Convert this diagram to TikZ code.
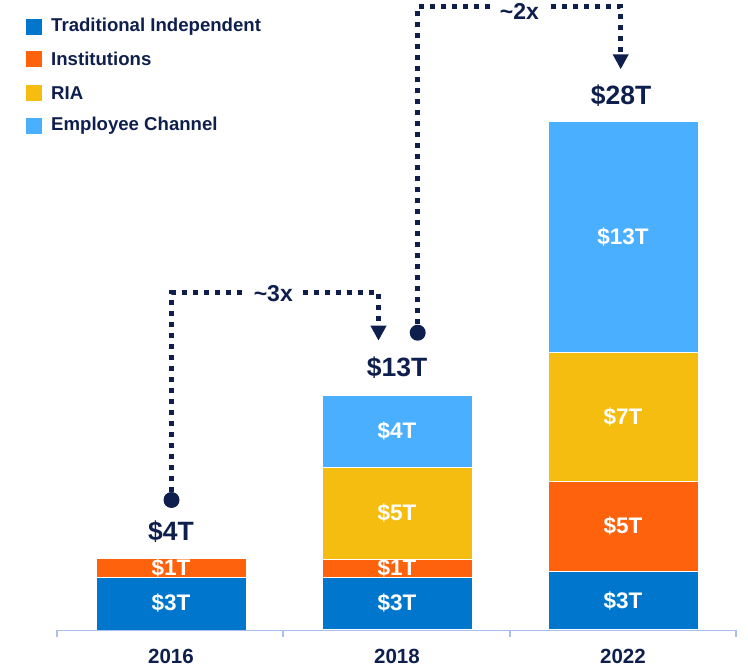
\documentclass[tikz,border=0pt]{standalone}
\usepackage{fontspec}
\setmainfont{Liberation Sans}
\usetikzlibrary{arrows.meta}
\definecolor{tiblue}{HTML}{0077CC}
\definecolor{inorange}{HTML}{FF620D}
\definecolor{riayellow}{HTML}{F5BD0F}
\definecolor{emblue}{HTML}{4BAFFF}
\definecolor{navy}{HTML}{0F1F4D}
\definecolor{axisblue}{HTML}{A9C0EE}
\tikzset{
  seg/.style={draw=white, line width=0.4pt, inner sep=0pt, minimum width=150pt, anchor=center,
              text=white, font=\fontsize{22.5}{25}\selectfont\bfseries},
  legsq/.style={inner sep=0pt, minimum size=16pt},
  legtxt/.style={anchor=west, inner sep=0pt, text=navy, font=\fontsize{18.6}{21}\selectfont\bfseries},
  yeartxt/.style={inner sep=0pt, text=navy, font=\fontsize{20.5}{23}\selectfont\bfseries},
  totaltxt/.style={inner sep=0pt, text=navy, font=\fontsize{26.5}{29}\selectfont\bfseries},
  multtxt/.style={fill=white, inner xsep=8pt, inner ysep=2pt, text=navy, font=\fontsize{23}{26}\selectfont\bfseries},
  dotnode/.style={circle, fill=navy, inner sep=0pt, minimum size=16pt},
  dotline/.style={draw=navy, line width=5pt, dash pattern=on 5pt off 6pt, line cap=butt, line join=miter,
                  -{Triangle[width=15pt, length=15pt]}},
}
\begin{document}
\begin{tikzpicture}[x=1pt,y=-1pt]
\useasboundingbox (0,0) rectangle (748,668);

% legend
\node[legsq, fill=tiblue] (l1) at (34,26.7) {};
\node[legtxt] (t1) at (51,26.7) {Traditional Independent};
\node[legsq, fill=inorange] (l2) at (34,59.3) {};
\node[legtxt] (t2) at (51,59.3) {Institutions};
\node[legsq, fill=riayellow] (l3) at (34,92.7) {};
\node[legtxt] (t3) at (51,92.7) {RIA};
\node[legsq, fill=emblue] (l4) at (34,125.7) {};
\node[legtxt] (t4) at (51,125.7) {Employee Channel};

% bars 2016
\node[seg, fill=tiblue, minimum height=53.3pt] (a1) at (171,603.35) {\$3T};
\node[seg, fill=inorange, minimum height=18pt] (a2) at (171,567.7) {\raisebox{-2pt}{\$1T}};
% bars 2018
\node[seg, fill=tiblue, minimum height=52.6pt] (b1) at (397,603.3) {\$3T};
\node[seg, fill=inorange, minimum height=17.7pt] (b2) at (397,567.85) {\$1T};
\node[seg, fill=riayellow, minimum height=91.7pt] (b3) at (397,513.15) {\$5T};
\node[seg, fill=emblue, minimum height=72.3pt] (b4) at (397,431.15) {\$4T};
% bars 2022
\node[seg, fill=tiblue, minimum height=57.6pt] (c1) at (623,600.5) {\$3T};
\node[seg, fill=inorange, minimum height=90.7pt] (c2) at (623,526.35) {\$5T};
\node[seg, fill=riayellow, minimum height=129pt] (c3) at (623,416.5) {\$7T};
\node[seg, fill=emblue, minimum height=231pt] (c4) at (623,236.5) {\$13T};

% axis
\draw[axisblue, line width=1.3pt] (57,637) -- (57,630.5) -- (736,630.5) -- (736,637);
\draw[axisblue, line width=1.3pt] (283,630.5) -- (283,637);
\draw[axisblue, line width=1.3pt] (510,630.5) -- (510,637);

% years
\node[yeartxt] (y1) at (171,656) {2016};
\node[yeartxt] (y2) at (397,656) {2018};
\node[yeartxt] (y3) at (623,656) {2022};

% totals
\node[totaltxt] (s1) at (171,531.5) {\$4T};
\node[totaltxt] (s2) at (397,367.5) {\$13T};
\node[totaltxt] (s3) at (621,95.5) {\$28T};

% growth connectors
\node[dotnode] (d16) at (171.5,500) {};
\node[dotnode] (d18) at (417.7,332.7) {};
\coordinate (k3) at (171.5,293);
\coordinate (e3) at (378.5,340.7);
\coordinate (k2) at (417.7,6.7);
\coordinate (e2) at (620.7,69.3);
\draw[dotline] (d16) -- (k3) -| (e3);
\draw[dotline] (d18) -- (k2) -| (e2);
\node[multtxt] (m3) at (273.3,293.3) {\textasciitilde3x};
\node[multtxt] (m2) at (519.4,11.5) {\textasciitilde2x};
\end{tikzpicture}
\end{document}
